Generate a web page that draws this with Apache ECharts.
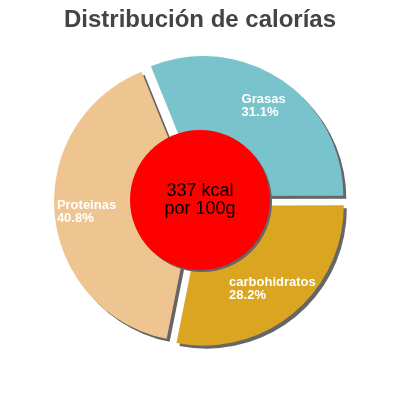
<!DOCTYPE html>
<html>
<head>
<meta charset="utf-8">
<script src="https://cdn.jsdelivr.net/npm/echarts@6/dist/echarts.min.js"></script>
<style>
  html, body { margin: 0; padding: 0; background: #fff; }
  #main { width: 400px; height: 400px; }
</style>
</head>
<body>
<div id="main"></div>
<script>
var titleText = 'Distribución de calorías'
var categories = ['Grasas', 'carbohidratos', 'Proteinas']
var percents = [31.1, 28.2, 40.8]
var colors = ['#79c3cc', '#daa520', '#eec591']
var centerLines = ['337 kcal', 'por 100g']

var chart = echarts.init(document.getElementById('main'))

// same slices twice: full pie for colour + shadow, ring on top only for labels
function sliceData(withColor) {
  var arr = []
  for (var i = 0; i < categories.length; i++) {
    arr.push({
      name: categories[i],
      value: percents[i],
      selected: true,
      itemStyle: withColor ? { color: colors[i] } : { color: 'rgba(0,0,0,0)' }
    })
  }
  return arr
}

var option = {
  animation: false,
  title: {
    text: titleText,
    left: 'center',
    top: 3,
    textStyle: {
      fontFamily: 'Liberation Sans',
      fontSize: 24,
      fontWeight: 'bold',
      color: '#444444'
    }
  },
  series: [{
    type: 'pie',
    center: [200, 201],
    radius: [0, 140],
    startAngle: 112,
    clockwise: true,
    selectedMode: 'multiple',
    selectedOffset: 6,
    silent: true,
    label: { show: false },
    labelLine: { show: false },
    emphasis: { disabled: true },
    itemStyle: {
      borderWidth: 0,
      shadowColor: '#666666',
      shadowOffsetX: 3,
      shadowOffsetY: 3,
      shadowBlur: 0
    },
    data: sliceData(true)
  }, {
    type: 'pie',
    center: [200, 201],
    radius: [70, 140],
    startAngle: 112,
    clockwise: true,
    selectedMode: 'multiple',
    selectedOffset: 6,
    silent: true,
    z: 3,
    labelLine: { show: false },
    emphasis: { disabled: true },
    label: {
      show: true,
      position: 'inside',
      formatter: function (p) {
        return '{a|' + p.name + '}\n{a|' + p.value.toFixed(1) + '%}'
      },
      rich: {
        a: {
          fontFamily: 'Liberation Sans',
          fontSize: 13,
          fontWeight: 'bold',
          color: '#ffffff',
          lineHeight: 13,
          align: 'left'
        }
      }
    },
    data: sliceData(false)
  }, {
    type: 'pie',
    center: [200, 200],
    radius: [0, 70],
    silent: true,
    z: 5,
    labelLine: { show: false },
    emphasis: { disabled: true },
    itemStyle: {
      color: '#ff0000',
      shadowColor: '#666666',
      shadowOffsetX: 2,
      shadowOffsetY: 2,
      shadowBlur: 0
    },
    label: {
      show: true,
      position: 'center',
      formatter: centerLines.join('\n'),
      fontFamily: 'Liberation Sans',
      fontSize: 18,
      lineHeight: 18,
      color: '#000000'
    },
    data: [{ name: 'kcal', value: 1 }]
  }]
}
chart.setOption(option)
</script>
</body>
</html>
